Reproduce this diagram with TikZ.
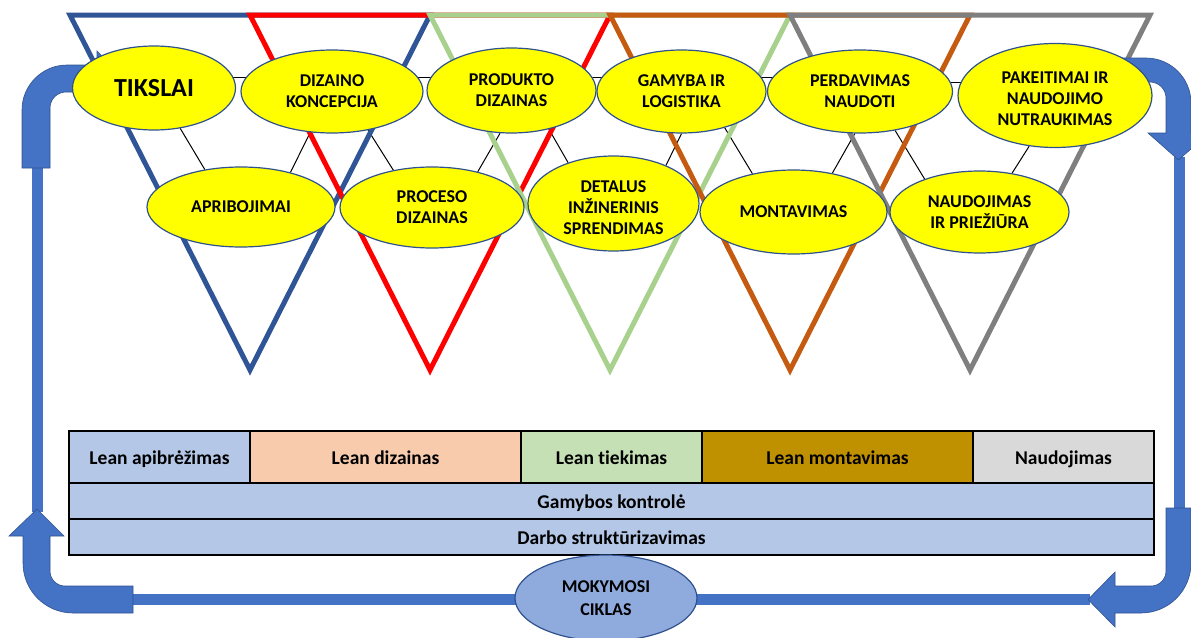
\documentclass[tikz,border=0pt]{standalone}
\usepackage{fontspec}
\setmainfont{Carlito}[Ligatures=NoCommon]
\usetikzlibrary{shapes.geometric}
\definecolor{triB}{HTML}{2F5597}
\definecolor{triR}{HTML}{FF0000}
\definecolor{triG}{HTML}{A9D18E}
\definecolor{triO}{HTML}{C55A11}
\definecolor{triK}{HTML}{7F7F7F}
\definecolor{bubble}{HTML}{FFFF00}
\definecolor{bubbleedge}{HTML}{2F528F}
\definecolor{loopblue}{HTML}{4472C4}
\definecolor{loopedge}{HTML}{2F528F}
\definecolor{cellblue}{HTML}{B4C7E7}
\definecolor{cellpeach}{HTML}{F8CBAD}
\definecolor{cellgreen}{HTML}{C5E0B4}
\definecolor{cellgold}{HTML}{BF9000}
\definecolor{cellgrey}{HTML}{D9D9D9}
\definecolor{cyclefill}{HTML}{8FAADC}
\pgfdeclarelayer{bg}
\pgfsetlayers{bg,main}
% invisible strut that lowers a text block inside its ellipse
\newcommand{\lowerby}[1]{\rule{0pt}{#1}}
\begin{document}
\begin{tikzpicture}[x=1pt,y=-1pt,
  stage/.style={ellipse, fill=bubble, draw=bubbleedge, line width=1.2pt,
    inner sep=0pt, align=center, font=\bfseries\fontsize{18}{21}\selectfont},
  link/.style={draw=black, line width=1pt},
  tri/.style={draw=#1, line width=5pt, line join=miter},
  band/.style={fill=loopblue, draw=loopedge, line width=0.6pt},
  shaft/.style={fill=loopblue},
  cell/.style={rectangle, draw=black, line width=1.5pt, inner sep=0pt,
    text height=15pt, text depth=1pt,
    font=\bfseries\fontsize{19.5}{23}\selectfont}]
\useasboundingbox (0,0) rectangle (1191,637);
\clip (0,0) rectangle (1191,637);

% upper row of phases
\node[stage, minimum width=163pt, minimum height=84pt, font=\bfseries\fontsize{26}{30}\selectfont] (tik) at (154,88) {TIKSLAI};
\node[stage, minimum width=182pt, minimum height=83pt] (diz) at (332,91.5) {DIZAINO\\KONCEPCIJA};
\node[stage, minimum width=169pt, minimum height=85pt] (pro) at (511.5,90.5) {PRODUKTO\\DIZAINAS};
\node[stage, minimum width=169pt, minimum height=83pt] (gam) at (681.5,91.5) {GAMYBA IR\\LOGISTIKA};
\node[stage, minimum width=185pt, minimum height=83pt] (per) at (860,91.5) {PERDAVIMAS\\NAUDOTI};
\node[stage, minimum width=194pt, minimum height=104pt] (pak) at (1055,95.5) {\lowerby{18pt}PAKEITIMAI IR\\NAUDOJIMO\\NUTRAUKIMAS};

% lower row of phases
\node[stage, minimum width=188pt, minimum height=80pt] (apr) at (241,207) {APRIBOJIMAI};
\node[stage, minimum width=184pt, minimum height=81pt] (prc) at (432,207.5) {PROCESO\\DIZAINAS};
\node[stage, minimum width=171pt, minimum height=95pt] (det) at (613.5,203.5) {\lowerby{21pt}DETALUS\\INŽINERINIS\\SPRENDIMAS};
\node[stage, minimum width=187pt, minimum height=84pt] (mon) at (793.5,212) {MONTAVIMAS};
\node[stage, minimum width=179pt, minimum height=82pt] (nau) at (979.5,212) {NAUDOJIMAS\\IR PRIEŽIŪRA};

% lean table
\node[cell, fill=cellblue,  minimum width=181pt, minimum height=52pt] (c1) at (159.5,457) {Lean apibrėžimas};
\node[cell, fill=cellpeach, minimum width=271pt, minimum height=52pt] (c2) at (385.5,457) {Lean dizainas};
\node[cell, fill=cellgreen, minimum width=181pt, minimum height=52pt] (c3) at (611.5,457) {Lean tiekimas};
\node[cell, fill=cellgold,  minimum width=271pt, minimum height=52pt] (c4) at (837.5,457) {Lean montavimas};
\node[cell, fill=cellgrey,  minimum width=181pt, minimum height=52pt] (c5) at (1063.5,457) {Naudojimas};
\node[cell, fill=cellblue,  minimum width=1085pt, minimum height=36pt] (r2) at (611.5,501) {Gamybos kontrolė};
\node[cell, fill=cellblue,  minimum width=1085pt, minimum height=36pt] (r3) at (611.5,537) {Darbo struktūrizavimas};

% learning cycle
\node[ellipse, fill=cyclefill, draw=bubbleedge, line width=1.2pt, inner sep=0pt,
  minimum width=182pt, minimum height=86pt, align=center,
  font=\bfseries\fontsize{18}{23}\selectfont] (mok) at (606,598) {MOKYMOSI\\CIKLAS};

\coordinate (hy) at (0,77);
\coordinate (hz) at (0,82);

\begin{pgfonlayer}{bg}
  % links between phases
  \draw[link] (tik.center |- hy) -- (diz.center |- hy);
  \draw[link] (diz.center |- hy) -- (pro.center |- hy);
  \draw[link] (pro.center |- hy) -- (gam.center |- hy);
  \draw[link] (gam.center |- hy) -- (per.center |- hy);
  \draw[link] (per.center |- hz) -- (pak.center |- hz);
  \draw[link] (tik.-57) -- (apr.134);
  \draw[link] (diz.-118) -- (apr.35);
  \draw[link] (diz.-47) -- (prc.136);
  \draw[link] (pro.-105) -- (prc.38);
  \draw[link] (pro.-46) -- (det.138);
  \draw[link] (gam.-90) -- (det.36);
  \draw[link] (gam.-40) -- (mon.137);
  \draw[link] (per.-97) -- (mon.45);
  \draw[link] (per.-48) -- (nau.149);
  \draw[link] (pak.-117) -- (nau.50);

  % funnels
  \foreach \c [count=\i from 0] in {triB,triR,triG,triO,triK}
    \draw[tri=\c] ({70+180*\i},15) -- ({430+180*\i},15) -- ({250+180*\i},370) -- cycle;

  % feedback loop
  \fill[shaft] (32,168) rectangle (43,512);
  \fill[shaft] (1174,157) rectangle (1185,510);
  \fill[shaft] (133,594) rectangle (1090,605);
  \draw[band] (22,168) -- (22,110) .. controls (22,85.2) and (42.2,65) .. (67,65)
    -- (97,65) -- (97,51) -- (124,78.5) -- (97,106) -- (97,92) -- (66,92)
    .. controls (57.2,92) and (50,99.2) .. (50,108) -- (50,168) -- cycle;
  \draw[band] (37,509) -- (64,536) -- (50,536) -- (50,571)
    .. controls (50,579.3) and (56.7,586) .. (65,586) -- (133,586) -- (133,613)
    -- (73,613) .. controls (45.4,613) and (23,590.6) .. (23,563) -- (23,536)
    -- (9,536) -- cycle;
  \draw[band] (1088,599.5) -- (1115,572) -- (1115,586) -- (1151,586)
    .. controls (1159.3,586) and (1166,579.3) .. (1166,571) -- (1166,508)
    -- (1191,508) -- (1191,563) .. controls (1191,590.6) and (1168.6,613) .. (1141,613)
    -- (1115,613) -- (1115,627) -- cycle;
  \draw[band] (1120,58) -- (1146,58) .. controls (1170.8,58) and (1191,78.2) .. (1191,103)
    -- (1191,133) -- (1209,133) -- (1178.5,160) -- (1148,133) -- (1166,133) -- (1166,98)
    .. controls (1166,89.2) and (1158.8,82) .. (1150,82) -- (1120,82) -- cycle;
\end{pgfonlayer}
\end{tikzpicture}
\end{document}
